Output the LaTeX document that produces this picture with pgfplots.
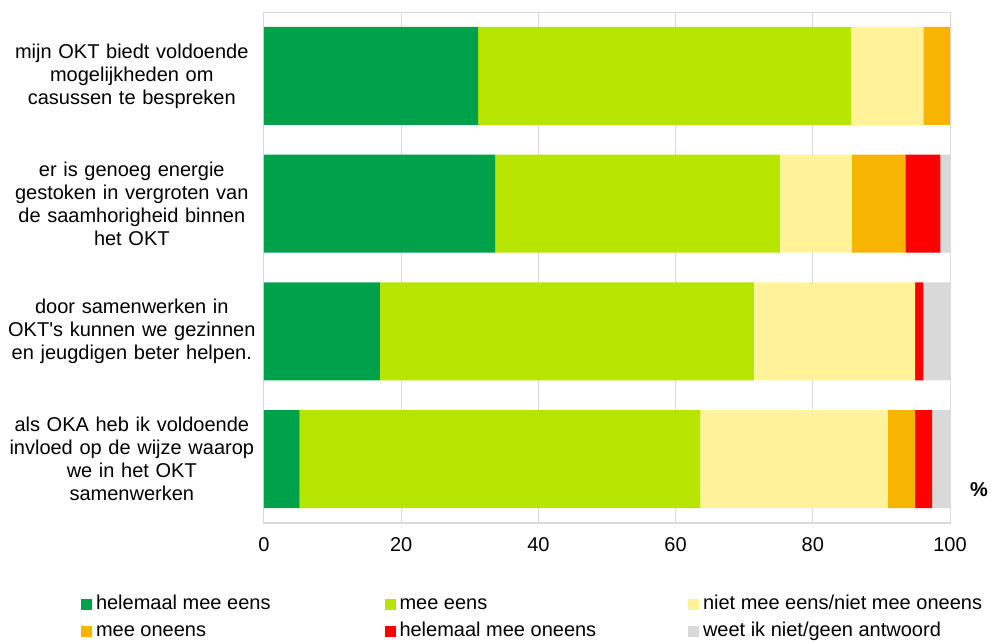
\documentclass[border=0pt]{standalone}
\usepackage{fontspec}
\setmainfont{Liberation Sans}
\usepackage{pgfplots}
\pgfplotsset{compat=1.18}
\definecolor{cA}{RGB}{0,161,75}
\definecolor{cB}{RGB}{182,230,0}
\definecolor{cC}{RGB}{255,242,153}
\definecolor{cD}{RGB}{247,180,0}
\definecolor{cE}{RGB}{255,0,0}
\definecolor{cF}{RGB}{217,217,217}
\definecolor{gridc}{RGB}{217,217,217}
\pgfplotsset{sqleg/.style={legend image code/.code={\fill[##1] (0pt,-5.5pt) rectangle (11pt,5.5pt);}}}
\newcommand{\lbl}[1]{\makebox[284.5pt][l]{#1}}
\begin{document}
\fontsize{20}{23}\selectfont
\begin{tikzpicture}
\useasboundingbox (0,0) rectangle (991pt,-643pt);
\begin{axis}[
  at={(264pt,-523pt)}, anchor=south west,
  scale only axis, width=686pt, height=511pt,
  font=\fontsize{20}{23}\selectfont,
  xbar stacked, bar width=98pt,
  xmin=0, xmax=100, ymin=0.5, ymax=4.5, y dir=reverse,
  xtick={0,20,40,60,80,100},
  ytick={1,2,3,4},
  yticklabels={
    {mijn OKT biedt voldoende\\mogelijkheden om\\casussen te bespreken},
    {er is genoeg energie\\gestoken in vergroten van\\de saamhorigheid binnen\\het OKT},
    {door samenwerken in\\OKT\textquotesingle s kunnen we gezinnen\\en jeugdigen beter helpen.},
    {als OKA heb ik voldoende\\invloed op de wijze waarop\\we in het OKT\\samenwerken}},
  yticklabel style={align=center, text width=250pt, inner sep=0pt, xshift=-7pt, font=\fontsize{20}{23}\selectfont},
  xticklabel style={inner sep=0pt, yshift=-14pt},
  /pgf/number format/assume math mode=true,
  tick style={draw=none},
  xmajorgrids, major grid style={gridc, line width=1pt},
  axis line style={gridc, line width=1pt},
  legend columns=3,
  legend cell align=left,
  legend style={draw=none, fill=none, inner sep=0pt, outer sep=0pt,
    at={(-0.26676,-0.13699)}, anchor=north west,
    column sep=3pt, row sep=5pt,
    nodes={inner sep=1pt, text height=15pt, text depth=5pt, anchor=west},
    font=\fontsize{20}{23}\selectfont},
]
\addplot[fill=cA, draw=none, sqleg] coordinates {(31.2,1) (33.7,2) (16.9,3) (5.2,4)};
\addlegendentry{\lbl{helemaal mee eens}}
\addplot[fill=cB, draw=none, sqleg] coordinates {(54.4,1) (41.5,2) (54.5,3) (58.4,4)};
\addlegendentry{\lbl{mee eens}}
\addplot[fill=cC, draw=none, sqleg] coordinates {(10.5,1) (10.5,2) (23.5,3) (27.35,4)};
\addlegendentry{\lbl{niet mee eens/niet mee oneens}}
\addplot[fill=cD, draw=none, sqleg] coordinates {(3.9,1) (7.8,2) (0,3) (3.95,4)};
\addlegendentry{\lbl{mee oneens}}
\addplot[fill=cE, draw=none, sqleg] coordinates {(0,1) (5.1,2) (1.2,3) (2.5,4)};
\addlegendentry{\lbl{helemaal mee oneens}}
\addplot[fill=cF, draw=none, sqleg] coordinates {(0,1) (1.4,2) (3.9,3) (2.6,4)};
\addlegendentry{\lbl{weet ik niet/geen antwoord}}
\end{axis}
\draw[gridc, line width=2pt] (264pt,-523pt) -- (950pt,-523pt);
\node[font=\bfseries\fontsize{20}{23}\selectfont] at (979pt,-490pt) {\%};
\end{tikzpicture}
\end{document}
